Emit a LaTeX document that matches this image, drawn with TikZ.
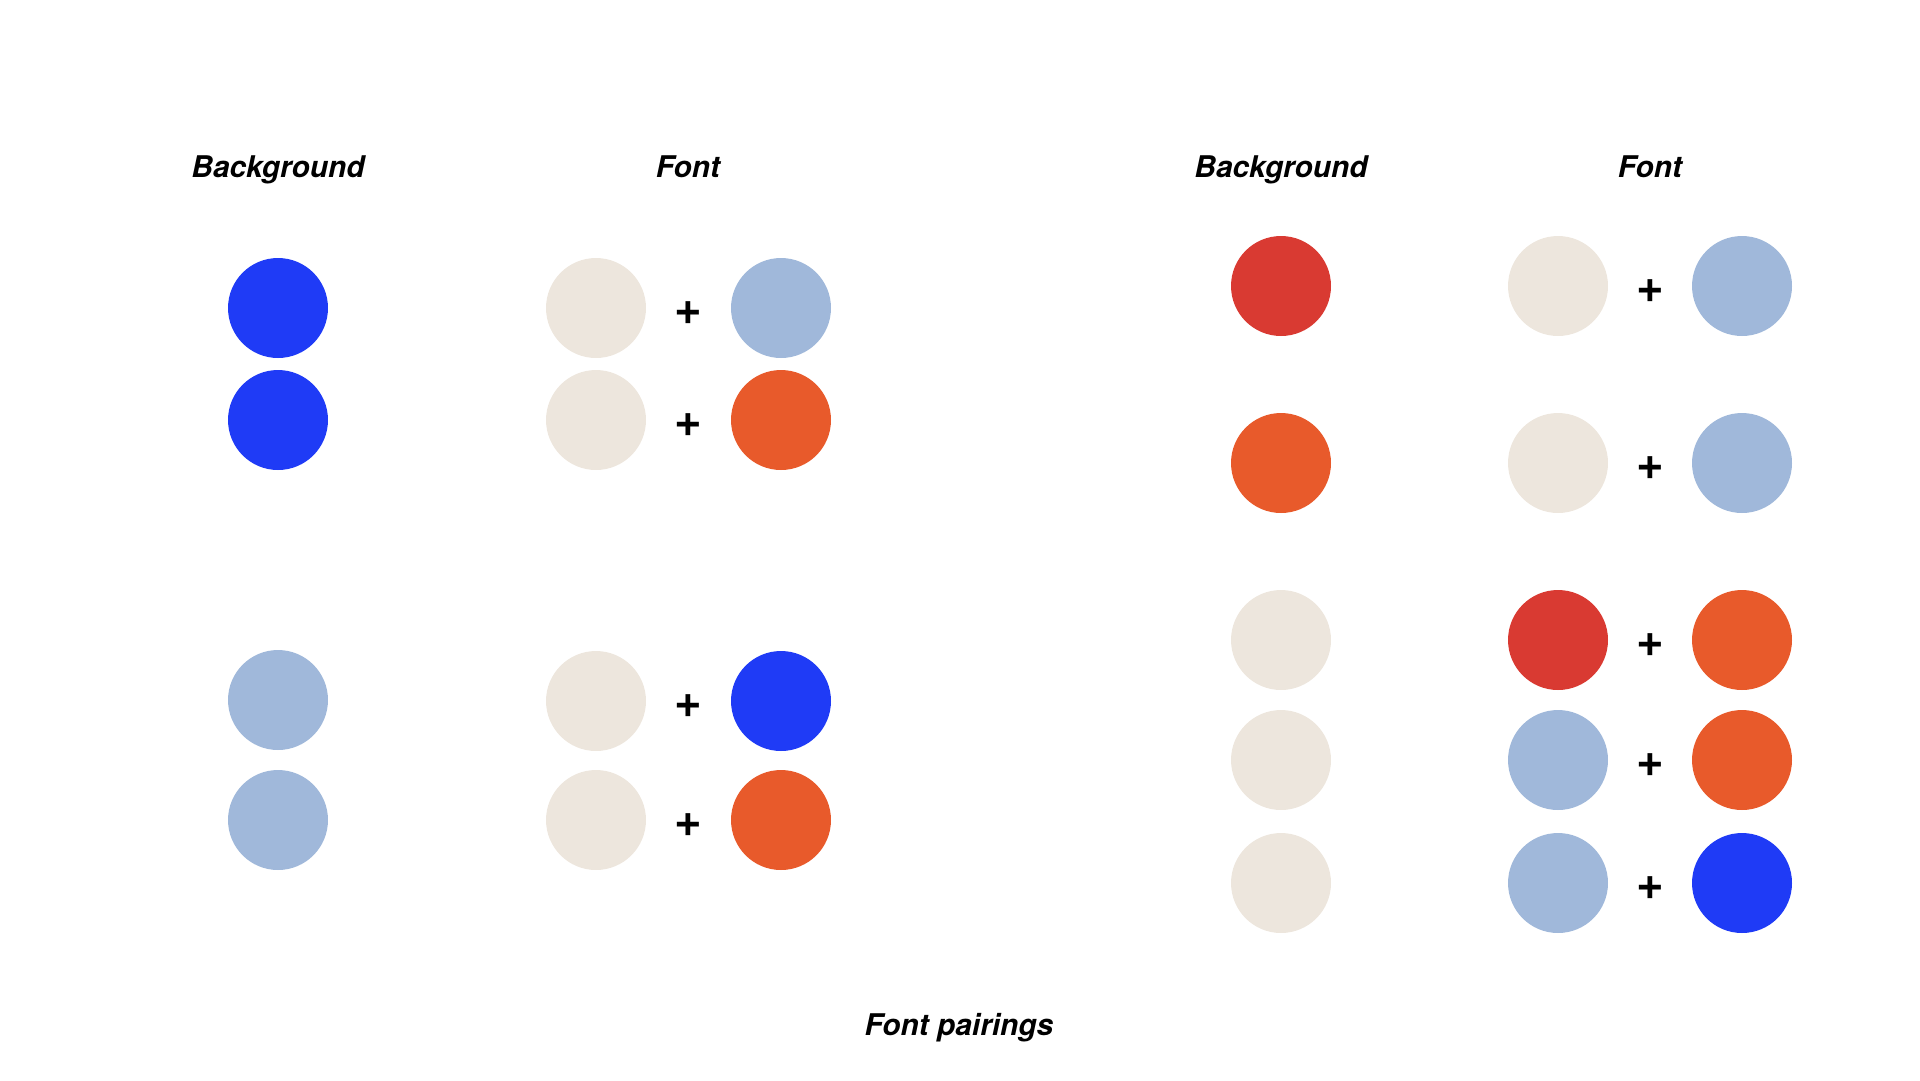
\documentclass[tikz,border=0pt]{standalone}
\usepackage{fontspec}
\setmainfont{TeX Gyre Heros}
\usepackage{tikz}
\definecolor{royal}{HTML}{1F3BF6}
\definecolor{sky}{HTML}{A0B8DA}
\definecolor{cream}{HTML}{EDE6DD}
\definecolor{flame}{HTML}{E85A2B}
\definecolor{brick}{HTML}{D93A32}

\begin{document}
\begin{tikzpicture}[x=0.02cm, y=-0.02cm,
    dot/.style={circle, minimum size=2cm, inner sep=0pt},
    plus/.style={font=\bfseries\fontsize{27}{27}\selectfont, inner sep=0pt},
    head/.style={font=\bfseries\itshape\fontsize{17}{20}\selectfont, inner sep=0pt, anchor=base}]
    \useasboundingbox (0,0) rectangle (1920,1080);

    % headings
    \node[head] (bgL) at (278,177) {Background};
    \node[head] (fontL) at (688,177) {Font};
    \node[head] (bgR) at (1281,177) {Background};
    \node[head] (fontR) at (1650,177) {Font};
    \node[head] (title) at (959,1035) {Font pairings};

    % left block, backgrounds
    \node[dot, fill=royal] (bgL1) at (278,308) {};
    \node[dot, fill=royal] (bgL2) at (278,420) {};
    \node[dot, fill=sky] (bgL3) at (278,700) {};
    \node[dot, fill=sky] (bgL4) at (278,820) {};

    % left block, fonts
    \node[dot, fill=cream] (fL1a) at (596,308) {};
    \node[plus] (pL1) at (688,313) {+};
    \node[dot, fill=sky] (fL1b) at (781,308) {};
    \node[dot, fill=cream] (fL2a) at (596,420) {};
    \node[plus] (pL2) at (688,425) {+};
    \node[dot, fill=flame] (fL2b) at (781,420) {};
    \node[dot, fill=cream] (fL3a) at (596,701) {};
    \node[plus] (pL3) at (688,706) {+};
    \node[dot, fill=royal] (fL3b) at (781,701) {};
    \node[dot, fill=cream] (fL4a) at (596,820) {};
    \node[plus] (pL4) at (688,825) {+};
    \node[dot, fill=flame] (fL4b) at (781,820) {};

    % right block, backgrounds
    \node[dot, fill=brick] (bgR1) at (1281,286) {};
    \node[dot, fill=flame] (bgR2) at (1281,463) {};
    \node[dot, fill=cream] (bgR3) at (1281,640) {};
    \node[dot, fill=cream] (bgR4) at (1281,760) {};
    \node[dot, fill=cream] (bgR5) at (1281,883) {};

    % right block, fonts
    \node[dot, fill=cream] (fR1a) at (1558,286) {};
    \node[plus] (pR1) at (1650,291) {+};
    \node[dot, fill=sky] (fR1b) at (1742,286) {};
    \node[dot, fill=cream] (fR2a) at (1558,463) {};
    \node[plus] (pR2) at (1650,468) {+};
    \node[dot, fill=sky] (fR2b) at (1742,463) {};
    \node[dot, fill=brick] (fR3a) at (1558,640) {};
    \node[plus] (pR3) at (1650,645) {+};
    \node[dot, fill=flame] (fR3b) at (1742,640) {};
    \node[dot, fill=sky] (fR4a) at (1558,760) {};
    \node[plus] (pR4) at (1650,765) {+};
    \node[dot, fill=flame] (fR4b) at (1742,760) {};
    \node[dot, fill=sky] (fR5a) at (1558,883) {};
    \node[plus] (pR5) at (1650,888) {+};
    \node[dot, fill=royal] (fR5b) at (1742,883) {};
  \end{tikzpicture}
\end{document}
